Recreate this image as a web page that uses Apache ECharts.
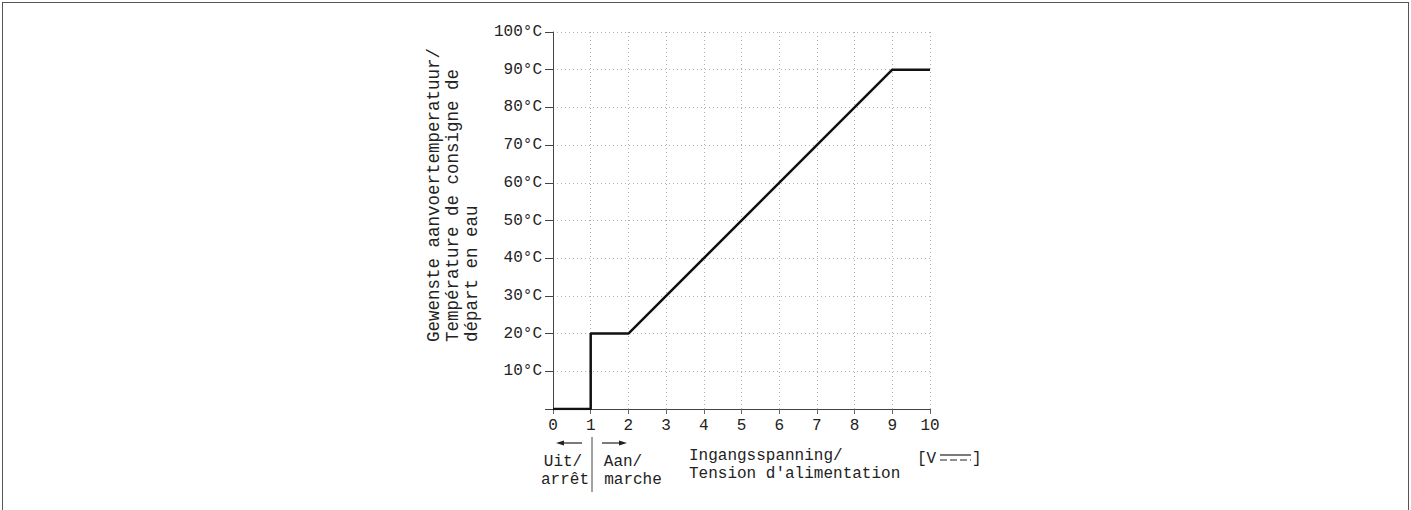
<!DOCTYPE html>
<html>
<head>
<meta charset="utf-8">
<script src="https://cdn.jsdelivr.net/npm/echarts@6/dist/echarts.min.js"></script>
<style>
  html, body { margin: 0; padding: 0; background: #fff; }
  #frame {
    position: absolute; left: 2px; top: 2px; width: 1405px; height: 520px;
    border-top: 1px solid #555; border-left: 1px solid #555; border-right: 1px solid #555;
  }
  #eChart { position: absolute; left: 0; top: 0; width: 1411px; height: 510px; }
</style>
</head>
<body>
<div id="frame"></div>
<div id="eChart"></div>
<script>
// input voltage [V] -> setpoint water temperature [°C]
const voltage = [0, 1, 1, 2, 9, 10];
const setpoint = [0, 0, 20, 20, 90, 90];
const yTitle = ["Gewenste aanvoertemperatuur/", "Température de consigne de", "départ en eau"];
const xTitle = ["Ingangsspanning/", "Tension d'alimentation"];

const FONT = '"Liberation Mono", "DejaVu Sans Mono", monospace';
const ink = "#222";

const chart = echarts.init(document.getElementById("eChart"), null, { renderer: "svg" });

const opts = {
  animation: false,
  grid: { left: 553, top: 32, width: 377, height: 377 },
  xAxis: {
    type: "value",
    min: 0,
    max: 10,
    interval: 1,
    axisLine: { onZero: false, lineStyle: { color: "#444", width: 1 } },
    axisTick: { show: true, length: 5, inside: false, lineStyle: { color: "#666" } },
    axisLabel: { margin: 9, color: ink, fontFamily: FONT, fontSize: 16 },
    splitLine: { show: true, lineStyle: { color: "#b0b0b0", type: [1, 3], width: 1 } },
  },
  yAxis: {
    type: "value",
    min: 0,
    max: 100,
    interval: 10,
    axisLine: { show: true, onZero: false, lineStyle: { color: "#444", width: 1 } },
    axisTick: { show: true, length: 8, lineStyle: { color: "#444" } },
    axisLabel: {
      margin: 11,
      color: ink,
      fontFamily: FONT,
      fontSize: 16,
      formatter: (v) => (v === 0 ? "" : v + "°C"),
    },
    splitLine: { show: true, lineStyle: { color: "#b0b0b0", type: [1, 3], width: 1 } },
  },
  series: [
    {
      type: "line",
      symbol: "none",
      data: voltage.map((v, i) => [v, setpoint[i]]),
      lineStyle: { color: "#111", width: 2.5 },
      z: 5,
    },
  ],
  graphic: [],
};

// axis title (rotated, three lines)
const yCols = [434, 453, 472];
yTitle.forEach((t, i) => {
  opts.graphic.push({
    type: "text",
    x: yCols[i],
    y: 342,
    rotation: Math.PI / 2,
    style: { text: t, font: "17.5px " + FONT, fill: ink, textAlign: "left", textVerticalAlign: "middle" },
  });
});

// x title
xTitle.forEach((t, i) => {
  opts.graphic.push({
    type: "text",
    x: 689,
    y: 456 + i * 18,
    style: { text: t, font: "16px " + FONT, fill: ink, textAlign: "left", textVerticalAlign: "middle" },
  });
});

// unit [V ===]
opts.graphic.push(
  { type: "text", x: 917, y: 459, style: { text: "[V", font: "16px " + FONT, fill: ink, textAlign: "left", textVerticalAlign: "middle" } },
  { type: "text", x: 972, y: 459, style: { text: "]", font: "16px " + FONT, fill: ink, textAlign: "left", textVerticalAlign: "middle" } },
  { type: "line", shape: { x1: 940, y1: 455, x2: 971, y2: 455 }, style: { stroke: ink, lineWidth: 1.2 } },
  { type: "line", shape: { x1: 940, y1: 460, x2: 971, y2: 460 }, style: { stroke: ink, lineWidth: 1.2, lineDash: [7, 3] } }
);

// on / off annotation
opts.graphic.push(
  { type: "line", shape: { x1: 592, y1: 437, x2: 592, y2: 492 }, style: { stroke: "#444", lineWidth: 1 } },
  { type: "line", shape: { x1: 562, y1: 443, x2: 582, y2: 443 }, style: { stroke: ink, lineWidth: 1.2 } },
  { type: "polygon", shape: { points: [[556, 443], [564, 440.5], [564, 445.5]] }, style: { fill: ink } },
  { type: "line", shape: { x1: 602, y1: 443, x2: 620, y2: 443 }, style: { stroke: ink, lineWidth: 1.2 } },
  { type: "polygon", shape: { points: [[627, 443], [619, 440.5], [619, 445.5]] }, style: { fill: ink } },
  { type: "text", x: 563, y: 462, style: { text: "Uit/", font: "16px " + FONT, fill: ink, textAlign: "center", textVerticalAlign: "middle" } },
  { type: "text", x: 565, y: 480, style: { text: "arrêt", font: "16px " + FONT, fill: ink, textAlign: "center", textVerticalAlign: "middle" } },
  { type: "text", x: 623, y: 462, style: { text: "Aan/", font: "16px " + FONT, fill: ink, textAlign: "center", textVerticalAlign: "middle" } },
  { type: "text", x: 633, y: 480, style: { text: "marche", font: "16px " + FONT, fill: ink, textAlign: "center", textVerticalAlign: "middle" } }
);

chart.setOption(opts);
</script>
</body>
</html>
